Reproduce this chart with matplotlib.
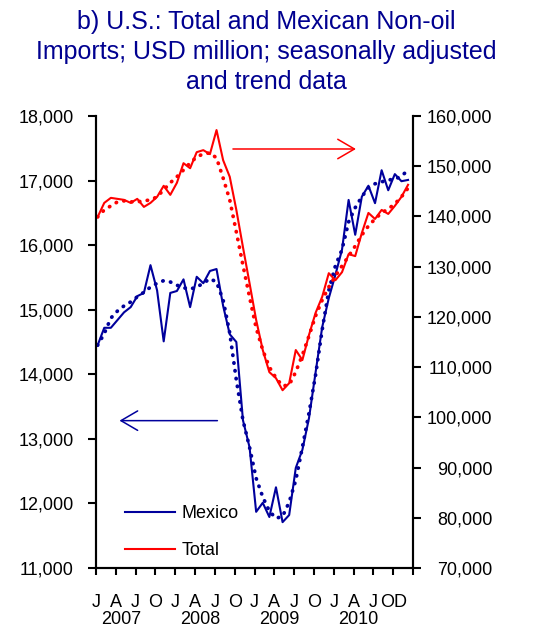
import numpy as np
import matplotlib.pyplot as plt
from matplotlib.lines import Line2D
from matplotlib.ticker import FuncFormatter
import matplotlib.transforms as mtransforms

plt.rcParams['font.family'] = ['Liberation Sans', 'DejaVu Sans']

# monthly data, Jan 2007 - Dec 2010 (USD million)
month_labels = ['J', 'A', 'J', 'O', 'J', 'A', 'J', 'O', 'J', 'A', 'J', 'O', 'J', 'A', 'J', 'OD']
years = ['2007', '2008', '2009', '2010']

mexico = [14450, 14720, 14720, 14840, 14960, 15040, 15210, 15260, 15690, 15300, 14510, 15260,
          15290, 15470, 15040, 15510, 15410, 15600, 15630, 15060, 14620, 14500, 13290, 12870,
          11870, 12010, 11790, 12250, 11710, 11820, 12550, 12830, 13320, 14030, 14730, 15180,
          15540, 15930, 16700, 16160, 16750, 16920, 16650, 17160, 16850, 17100, 16990, 17010]
mexico_trend = [14450, 14630, 14870, 14980, 15060, 15120, 15200, 15270, 15350, 15410, 15450, 15430,
                15380, 15340, 15320, 15350, 15410, 15480, 15430, 15150, 14640, 13910, 13290, 12870,
                12390, 12100, 11880, 11770, 11800, 12020, 12360, 12870, 13400, 13990, 14690, 15300,
                15680, 15930, 16360, 16580, 16750, 16890, 16950, 16980, 17010, 17020, 17070, 17160]
total = [139900, 142700, 143700, 143500, 143300, 142700, 143500, 141900, 142700, 143900, 146100, 144300,
         146700, 150600, 149600, 152800, 153200, 152400, 157200, 151200, 147900, 141300, 133900, 126700,
         119400, 113400, 109000, 107800, 105400, 106800, 113400, 111400, 116400, 120800, 124000, 128700,
         127300, 128900, 132500, 132100, 136700, 140700, 139500, 141300, 140500, 142100, 143900, 146300]
total_trend = [139900, 141300, 142100, 142900, 143100, 142900, 142900, 143100, 143300, 143900, 145300, 146700,
               147900, 149250, 150650, 151850, 152450, 152650, 151650, 147650, 143300, 136900, 130300, 123950,
               117800, 113400, 110000, 107850, 106250, 106450, 109050, 112400, 116200, 120200, 123350, 125950,
               128150, 130150, 132100, 134100, 136300, 138100, 139500, 140700, 141500, 142500, 143900, 145650]

azul = '#00009C'
rojo = '#FF0000'
punteado = (0, (0.1, 2.0))

x = np.arange(len(mexico))

fig, ax = plt.subplots(figsize=(5.33, 6.29), dpi=100)
fig.subplots_adjust(left=96 / 533, right=413 / 533, top=1 - 116 / 629, bottom=1 - 568 / 629)
ax2 = ax.twinx()

ax.plot(x, mexico, color=azul, lw=1.5)
ax.plot(x, mexico_trend, color=azul, lw=2.7, linestyle=punteado, dash_capstyle='round')
ax2.plot(x, total, color=rojo, lw=1.5)
ax2.plot(x, total_trend, color=rojo, lw=2.7, linestyle=punteado, dash_capstyle='round')

# ejes
ax.set_xlim(-0.25, 47.75)
ax.set_xticks(np.arange(17) * 3 - 0.25)
ax.set_xticklabels(month_labels + [''])
ax.set_ylim(11000, 18000)
ax.set_yticks(np.arange(11000, 18001, 1000))
ax.yaxis.set_major_formatter(FuncFormatter(lambda v, p: f'{v:,.0f}'))
ax2.set_ylim(70000, 160000)
ax2.set_yticks(np.arange(70000, 160001, 10000))
ax2.set_yticklabels([f'{v:,}' for v in range(70000, 160001, 10000)], ha='right')

for a in (ax, ax2):
    a.spines['top'].set_visible(False)
    for s in ('left', 'right', 'bottom'):
        a.spines[s].set_linewidth(1.5)
ax.tick_params(axis='y', direction='out', length=6, width=1.5, pad=10, labelsize=13)
ax.tick_params(axis='x', direction='out', length=5, width=1.5, pad=14, labelsize=13)
ax2.tick_params(axis='y', direction='out', length=6, width=1.5, pad=51, labelsize=13)

trans = mtransforms.blended_transform_factory(ax.transData, ax.transAxes)
for i, yr in enumerate(years):
    ax.text(12 * i + 3.5, -0.113, yr, transform=trans, ha='center', va='center', fontsize=13)

# flechas
ax2.annotate('', xy=(0.82, 0.927), xytext=(0.432, 0.927), xycoords='axes fraction',
             arrowprops=dict(arrowstyle='->,head_length=1.2,head_width=0.7', color=rojo, lw=1.1,
                             shrinkA=0, shrinkB=0))
ax2.annotate('', xy=(0.074, 0.326), xytext=(0.383, 0.326), xycoords='axes fraction',
             arrowprops=dict(arrowstyle='->,head_length=1.2,head_width=0.7', color=azul, lw=1.1,
                             shrinkA=0, shrinkB=0))

handles = [Line2D([], [], color=azul, lw=1.5), Line2D([], [], color=rojo, lw=1.5)]
ax2.legend(handles, ['Mexico', 'Total'], loc='lower left', bbox_to_anchor=(0.091, 0.02),
           frameon=False, borderpad=0, borderaxespad=0, handlelength=2.8, handletextpad=0.35,
           labelspacing=1.1, fontsize=13)

fig.text(0.5, 1 - 10 / 629,
         'b) U.S.: Total and Mexican Non-oil\nImports; USD million; seasonally adjusted\nand trend data',
         ha='center', va='top', fontsize=18, color='#000090', linespacing=1.32)

plt.savefig('out.png', dpi=100)
